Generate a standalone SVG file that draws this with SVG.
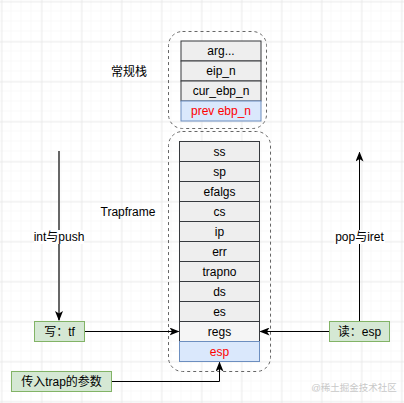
<svg xmlns="http://www.w3.org/2000/svg" width="404" height="403" viewBox="0 0 404 403">
<defs>
<pattern id="minor" width="10" height="10" patternUnits="userSpaceOnUse" x="1.5" y="1.5">
<path d="M10,0 V10 M0,10 H10" fill="none" stroke="#f3f3f3" stroke-width="1"/>
</pattern>
<pattern id="major" width="40" height="40" patternUnits="userSpaceOnUse" x="1.5" y="1.5">
<path d="M0,0 V40 M0,0 H40" fill="none" stroke="#dedede" stroke-width="1"/>
</pattern>
<marker id="arr" markerWidth="10" markerHeight="8" refX="9" refY="4" orient="auto" markerUnits="userSpaceOnUse">
<path d="M0,0 L10,4 L0,8 L2.5,4 z" fill="#000"/>
</marker>
<marker id="arrg" markerWidth="10" markerHeight="8" refX="9" refY="4" orient="auto" markerUnits="userSpaceOnUse">
<path d="M0,0 L10,4 L0,8 L2.5,4 z" fill="#000"/>
</marker>
</defs>
<style>
text{font-family:"Liberation Sans",Arial,"Noto Sans CJK SC",sans-serif;font-size:12px;text-anchor:middle;dominant-baseline:central;fill:#000}
.cell{fill:#eeeeee;stroke:#36393d;stroke-width:1}
.light{fill:#f5f5f5;stroke:#36393d;stroke-width:1}
.blue{fill:#dae8fc;stroke:#6c8ebf;stroke-width:1}
.green{fill:#d5e8d4;stroke:#82b366;stroke-width:1}
.red{fill:#ff0000}
.cont{fill:none;stroke:#666;stroke-width:1;stroke-dasharray:3,3}
.edge{fill:none;stroke:#000;stroke-width:1}
.lbl{fill:#fff}
</style>
<rect width="404" height="403" fill="#fff"/>
<rect width="404" height="403" fill="url(#minor)"/>
<rect width="404" height="403" fill="url(#major)"/>

<g id="stack-normal">
<rect class="cont" x="168.5" y="31.5" width="98" height="97" rx="14"/>
<g id="arg"><rect class="cell" x="181" y="41" width="80" height="20"/><text x="221" y="51">arg...</text></g>
<g id="eip_n"><rect class="cell" x="181" y="61" width="80" height="20"/><text x="221" y="71">eip_n</text></g>
<g id="cur_ebp_n"><rect class="cell" x="181" y="81" width="80" height="20"/><text x="221" y="91">cur_ebp_n</text></g>
<g id="prev_ebp_n"><rect class="blue" x="181" y="101" width="80" height="20"/><text class="red" x="221" y="111">prev ebp_n</text></g>
</g>

<g id="trapframe">
<rect class="cont" x="168.5" y="131.5" width="102" height="240" rx="14"/>
<g id="ss"><rect class="cell" x="179.5" y="141.5" width="80" height="20"/><text x="219.5" y="151.5">ss</text></g>
<g id="sp"><rect class="cell" x="179.5" y="161.5" width="80" height="20"/><text x="219.5" y="171.5">sp</text></g>
<g id="efalgs"><rect class="cell" x="179.5" y="181.5" width="80" height="20"/><text x="219.5" y="191.5">efalgs</text></g>
<g id="cs"><rect class="cell" x="179.5" y="201.5" width="80" height="20"/><text x="219.5" y="211.5">cs</text></g>
<g id="ip"><rect class="cell" x="179.5" y="221.5" width="80" height="20"/><text x="219.5" y="231.5">ip</text></g>
<g id="err"><rect class="cell" x="179.5" y="241.5" width="80" height="20"/><text x="219.5" y="251.5">err</text></g>
<g id="trapno"><rect class="cell" x="179.5" y="261.5" width="80" height="20"/><text x="219.5" y="271.5">trapno</text></g>
<g id="ds"><rect class="cell" x="179.5" y="281.5" width="80" height="20"/><text x="219.5" y="291.5">ds</text></g>
<g id="es"><rect class="cell" x="179.5" y="301.5" width="80" height="20"/><text x="219.5" y="311.5">es</text></g>
<g id="regs"><rect class="light" x="179.5" y="321.5" width="80" height="20"/><text x="219.5" y="331.5">regs</text></g>
<g id="esp"><rect class="blue" x="179.5" y="341.5" width="80" height="20"/><text class="red" x="219.5" y="351.5">esp</text></g>
</g>

<g id="label-normal"><text x="129" y="72">常规栈</text></g>
<g id="label-trapframe"><text x="128" y="212">Trapframe</text></g>

<g id="connectors">
<path d="M59,151 V320" fill="none" stroke="#666" stroke-width="2" marker-end="url(#arrg)"/>
<path class="edge" d="M84.5,331.5 H178.5" marker-end="url(#arr)"/>
<path class="edge" d="M329,331.5 H260.5" marker-end="url(#arr)"/>
<path class="edge" d="M359.5,321 V152.5" marker-end="url(#arr)"/>
<path class="edge" d="M111,381.5 H219.5 V362.5" marker-end="url(#arr)"/>
<rect class="lbl" x="34" y="230" width="50" height="14"/>
<text x="59" y="237">int与push</text>
<rect class="lbl" x="334" y="230" width="51" height="14"/>
<text x="359.5" y="237">pop与iret</text>
</g>

<g id="write-tf"><rect class="green" x="34.5" y="321.5" width="50" height="20"/><text x="59.5" y="331.5">写：tf</text></g>
<g id="read-esp"><rect class="green" x="329.5" y="321.5" width="60" height="20"/><text x="359.5" y="331.5">读：esp</text></g>
<g id="param"><rect class="green" x="11.5" y="371.5" width="100" height="20"/><text x="61.5" y="381.5">传入trap的参数</text></g>

<text x="354" y="387" style="font-size:9.5px;fill:#c8c8c8">@稀土掘金技术社区</text>
</svg>
